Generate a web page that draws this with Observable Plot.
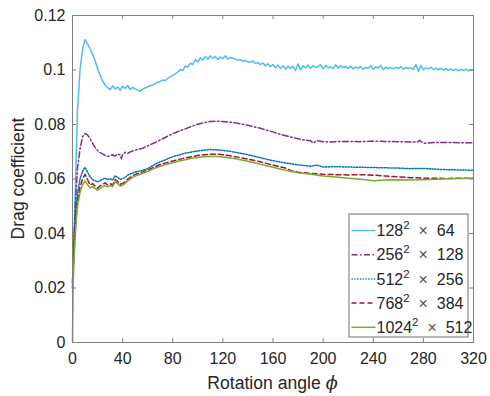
<!DOCTYPE html>
<html><head><meta charset="utf-8">
<script src="https://cdn.jsdelivr.net/npm/d3@7"></script>
<script src="https://cdn.jsdelivr.net/npm/@observablehq/plot@0.6"></script>
<style>body{margin:0;background:#fff;} #chart{position:relative;width:490px;height:396px;}</style>
</head><body><div id="chart"></div>
<script>
const xTicks = [0, 40, 80, 120, 160, 200, 240, 280, 320];
const yTicks = [0, 0.02, 0.04, 0.06, 0.08, 0.1, 0.12];
const yTickLabels = ["0", "0.02", "0.04", "0.06", "0.08", "0.1", "0.12"];
const xLabel = "Rotation angle ";
const xLabelSymbol = "ϕ";
const yLabel = "Drag coefficient";

const legendBase = ["128", "256", "512", "768", "1024"];
const legendDepth = ["64", "128", "256", "384", "512"];
const seriesColors = ["#4DBEEE", "#7E2F8E", "#0072BD", "#A2142F", "#77AC30"];
const seriesDash = [null, "6,2.5,1.5,2.5", "1.3,1.5", "5,3", null];

const angle128 = d3.range(0, 321, 2);
const cd128 = [
  0.0200,0.0520,0.0850,0.1000,0.1075,0.1112,0.1095,0.1078,0.1058,0.1035,
  0.1005,0.0982,0.0960,0.0945,0.0935,0.0928,0.0942,0.0930,0.0938,0.0925,
  0.0940,0.0932,0.0943,0.0929,0.0936,0.0931,0.0926,0.0922,0.0930,0.0934,
  0.0938,0.0942,0.0945,0.0951,0.0955,0.0958,0.0963,0.0961,0.0969,0.0975,
  0.0980,0.0986,0.0992,0.1002,0.0998,0.1015,0.1010,0.1025,0.1020,0.1038,
  0.1030,0.1045,0.1036,0.1050,0.1040,0.1052,0.1043,0.1050,0.1038,0.1048,
  0.1042,0.1052,0.1040,0.1046,0.1043,0.1040,0.1036,0.1038,0.1032,0.1035,
  0.1030,0.1028,0.1033,0.1024,0.1027,0.1020,0.1026,0.1015,0.1023,0.1012,
  0.1020,0.1008,0.1018,0.1005,0.1016,0.1003,0.1014,0.1006,0.1013,0.0998,
  0.1022,0.1000,0.1015,0.1008,0.1018,0.1006,0.1016,0.1009,0.1013,0.1020,
  0.1004,0.1017,0.1008,0.1012,0.1005,0.1019,0.1007,0.1016,0.1009,0.1012,
  0.1006,0.1014,0.1004,0.1011,0.1007,0.1013,0.1003,0.1010,0.1006,0.1016,
  0.1002,0.1012,0.1007,0.1017,0.1001,0.1011,0.1005,0.1009,0.1004,0.1010,
  0.1006,0.1012,0.1003,0.1009,0.1005,0.1008,0.1002,0.1020,0.0995,0.1016,
  0.1001,0.1008,0.1004,0.1010,0.1002,0.1007,0.1001,0.1006,0.1000,0.1005,
  0.0999,0.1004,0.0998,0.1003,0.0997,0.1002,0.0998,0.1003,0.0997,0.1001,
  0.0999
];

const angle256 = [0,1,2,3,4,6,8,10,12,14,16,18,20,22,24,26,28,30,32,34,36,38,39,40,42,44,46,48,52,56,60,65,70,75,80,85,90,95,100,105,110,115,120,125,130,135,140,145,150,155,160,165,170,175,180,185,190,192,195,200,205,210,220,230,240,250,260,270,275,277,280,290,300,310,320];
const cd256 = [0.022,0.035,0.048,0.057,0.064,0.071,0.0755,0.0767,0.0762,0.0748,0.0732,0.0716,0.0705,0.0697,0.0692,0.0687,0.0683,0.0685,0.0689,0.0684,0.0692,0.0688,0.0674,0.0690,0.0698,0.0694,0.0699,0.0703,0.0708,0.0713,0.0722,0.0732,0.0743,0.0755,0.0766,0.0776,0.0784,0.0793,0.0801,0.0807,0.0811,0.0812,0.0811,0.0809,0.0806,0.0801,0.0797,0.0791,0.0786,0.0779,0.0773,0.0765,0.0759,0.0753,0.0748,0.0743,0.0740,0.0732,0.0741,0.0737,0.0736,0.0737,0.0738,0.0737,0.0739,0.0738,0.0737,0.0736,0.0735,0.0742,0.0731,0.0734,0.0734,0.0733,0.0733];

const angle512 = [0,1,2,3,4,6,8,10,12,14,16,18,20,22,24,26,28,30,32,34,36,38,40,42,44,48,52,56,60,65,70,75,80,85,90,95,100,105,110,115,120,125,130,140,150,160,170,180,190,195,200,210,220,230,240,250,260,270,280,290,300,310,320];
const cd512 = [0.022,0.033,0.044,0.051,0.055,0.060,0.0628,0.0643,0.0625,0.0608,0.0598,0.0594,0.0589,0.0594,0.0599,0.0603,0.0598,0.0601,0.0596,0.0612,0.0606,0.0599,0.0601,0.0606,0.0614,0.0622,0.0628,0.0632,0.0638,0.0652,0.0663,0.0672,0.0682,0.0688,0.0695,0.0699,0.0703,0.0706,0.0708,0.0707,0.0705,0.0702,0.0698,0.0689,0.0678,0.0667,0.0659,0.0652,0.0647,0.0651,0.0644,0.0645,0.0644,0.0643,0.0642,0.0641,0.0640,0.0638,0.0639,0.0636,0.0634,0.0633,0.0632];

const angle768 = [0,1,2,3,4,6,8,10,12,14,16,18,20,22,24,26,28,30,32,34,36,38,40,42,44,48,52,56,60,65,70,75,80,85,90,95,100,105,110,115,120,125,130,140,150,160,170,175,180,190,200,210,220,230,240,250,260,270,280,290,300,310,320];
const cd768 = [0.020,0.030,0.040,0.047,0.052,0.057,0.060,0.0617,0.0598,0.0578,0.0583,0.0574,0.0566,0.0575,0.0580,0.0586,0.0579,0.0583,0.0578,0.0598,0.0591,0.0580,0.0584,0.0590,0.0599,0.0612,0.0620,0.0626,0.0633,0.0643,0.0653,0.0660,0.0666,0.0672,0.0677,0.0682,0.0686,0.0689,0.0691,0.0691,0.0689,0.0686,0.0682,0.0673,0.0663,0.0651,0.0640,0.0630,0.0625,0.0621,0.0617,0.0616,0.0615,0.0616,0.0614,0.0611,0.0608,0.0605,0.0603,0.0603,0.0602,0.0603,0.0603];

const angle1024 = [0,0.5,1,2,3,4,6,8,10,12,14,16,18,20,22,24,26,28,30,32,34,36,38,40,42,44,48,52,56,60,65,70,75,80,85,90,95,100,105,110,115,120,125,130,140,150,160,170,180,190,200,210,220,230,240,250,260,270,280,290,300,310,320];
const cd1024 = [0,0.021,0.028,0.038,0.045,0.050,0.055,0.0578,0.0593,0.0580,0.0568,0.0572,0.0566,0.0558,0.0566,0.0571,0.0577,0.0571,0.0576,0.0572,0.0590,0.0583,0.0574,0.0577,0.0584,0.0593,0.0606,0.0614,0.0621,0.0628,0.0638,0.0647,0.0654,0.0660,0.0666,0.0671,0.0676,0.0679,0.0682,0.0683,0.0683,0.0681,0.0678,0.0674,0.0665,0.0654,0.0643,0.0632,0.0623,0.0617,0.0611,0.0607,0.0603,0.0599,0.0594,0.0596,0.0597,0.0596,0.0597,0.0599,0.0601,0.0602,0.0603];

const angles = [angle128, angle256, angle512, angle768, angle1024];
const values = [cd128, cd256, cd512, cd768, cd1024];
const series = angles.map((a, k) => a.map((x, i) => ({angle: x, cd: values[k][i]})));

const W = 490, H = 396, mL = 72, mR = 17, mT = 15, mB = 54;
const innerW = W - mL - mR, innerH = H - mT - mB, tickLen = 4;
const axisGray = "#808080";
const fontFam = "'Liberation Sans', Arial, sans-serif";

const plot = Plot.plot({
  width: W, height: H, marginLeft: mL, marginRight: mR, marginTop: mT, marginBottom: mB,
  style: {fontFamily: fontFam, color: "#262626", background: "white"},
  x: {domain: [0, 320]},
  y: {domain: [0, 0.12]},
  marks: [
    ...series.map((s, k) => Plot.line(s, {x: "angle", y: "cd", stroke: seriesColors[k], strokeWidth: 1.5, strokeDasharray: seriesDash[k] || undefined})),
    Plot.frame({stroke: axisGray}),
    Plot.tickX(xTicks, {x: d => d, insetTop: innerH - tickLen, stroke: axisGray}),
    Plot.tickX(xTicks, {x: d => d, insetBottom: innerH - tickLen, stroke: axisGray}),
    Plot.tickY(yTicks, {y: d => d, insetRight: innerW - tickLen, stroke: axisGray}),
    Plot.tickY(yTicks, {y: d => d, insetLeft: innerW - tickLen, stroke: axisGray}),
    Plot.axisX({ticks: xTicks, tickSize: 0, tickPadding: 10, fontSize: 16, label: null}),
    Plot.axisY({ticks: yTicks, tickSize: 0, tickPadding: 7, fontSize: 16, label: null,
      tickFormat: d => yTickLabels[yTicks.indexOf(d)]})
  ]
});
document.getElementById("chart").appendChild(plot);

const svg = d3.select(plot);
const xs = plot.scale("x"), ys = plot.scale("y");
const xMid = (xs.range[0] + xs.range[1]) / 2;
const yMid = (ys.range[0] + ys.range[1]) / 2;

const xl = svg.append("text").attr("x", xMid).attr("y", H - 7).attr("text-anchor", "middle")
  .attr("font-size", 17.6).attr("fill", "#262626").attr("font-family", fontFam);
xl.append("tspan").text(xLabel);
xl.append("tspan").attr("font-style", "italic").attr("font-family", "'DejaVu Serif', serif").text(xLabelSymbol);

svg.append("text").attr("transform", `translate(24,${yMid}) rotate(-90)`).attr("text-anchor", "middle")
  .attr("font-size", 17.6).attr("fill", "#262626").attr("font-family", fontFam)
  .text(yLabel);

// legend
const lg = svg.append("g").attr("font-family", fontFam).attr("font-size", 16).attr("fill", "#262626").attr("text-anchor", "start");
const lx = 349, ly = 214, lw = 119, lh = 123, rowH = 24.2;
lg.append("rect").attr("x", lx).attr("y", ly).attr("width", lw).attr("height", lh).attr("fill", "white").attr("stroke", "#6e6e6e");
legendBase.forEach((b, k) => {
  const cy = ly + 16.5 + k * rowH;
  lg.append("line").attr("x1", lx + 2.5).attr("x2", lx + 26.5).attr("y1", cy).attr("y2", cy)
    .attr("stroke", seriesColors[k]).attr("stroke-width", 1.5).attr("stroke-dasharray", seriesDash[k]);
  const t = lg.append("text").attr("x", lx + 27.5).attr("y", cy).attr("dy", "0.36em").attr("text-anchor", "start");
  t.append("tspan").text(b);
  t.append("tspan").attr("font-size", 11.5).attr("dy", -7).text("2");
  t.append("tspan").attr("dy", 7).attr("fill", "#555").attr("xml:space", "preserve").text("  ×  ");
  t.append("tspan").text(legendDepth[k]);
});
</script>
</body></html>
